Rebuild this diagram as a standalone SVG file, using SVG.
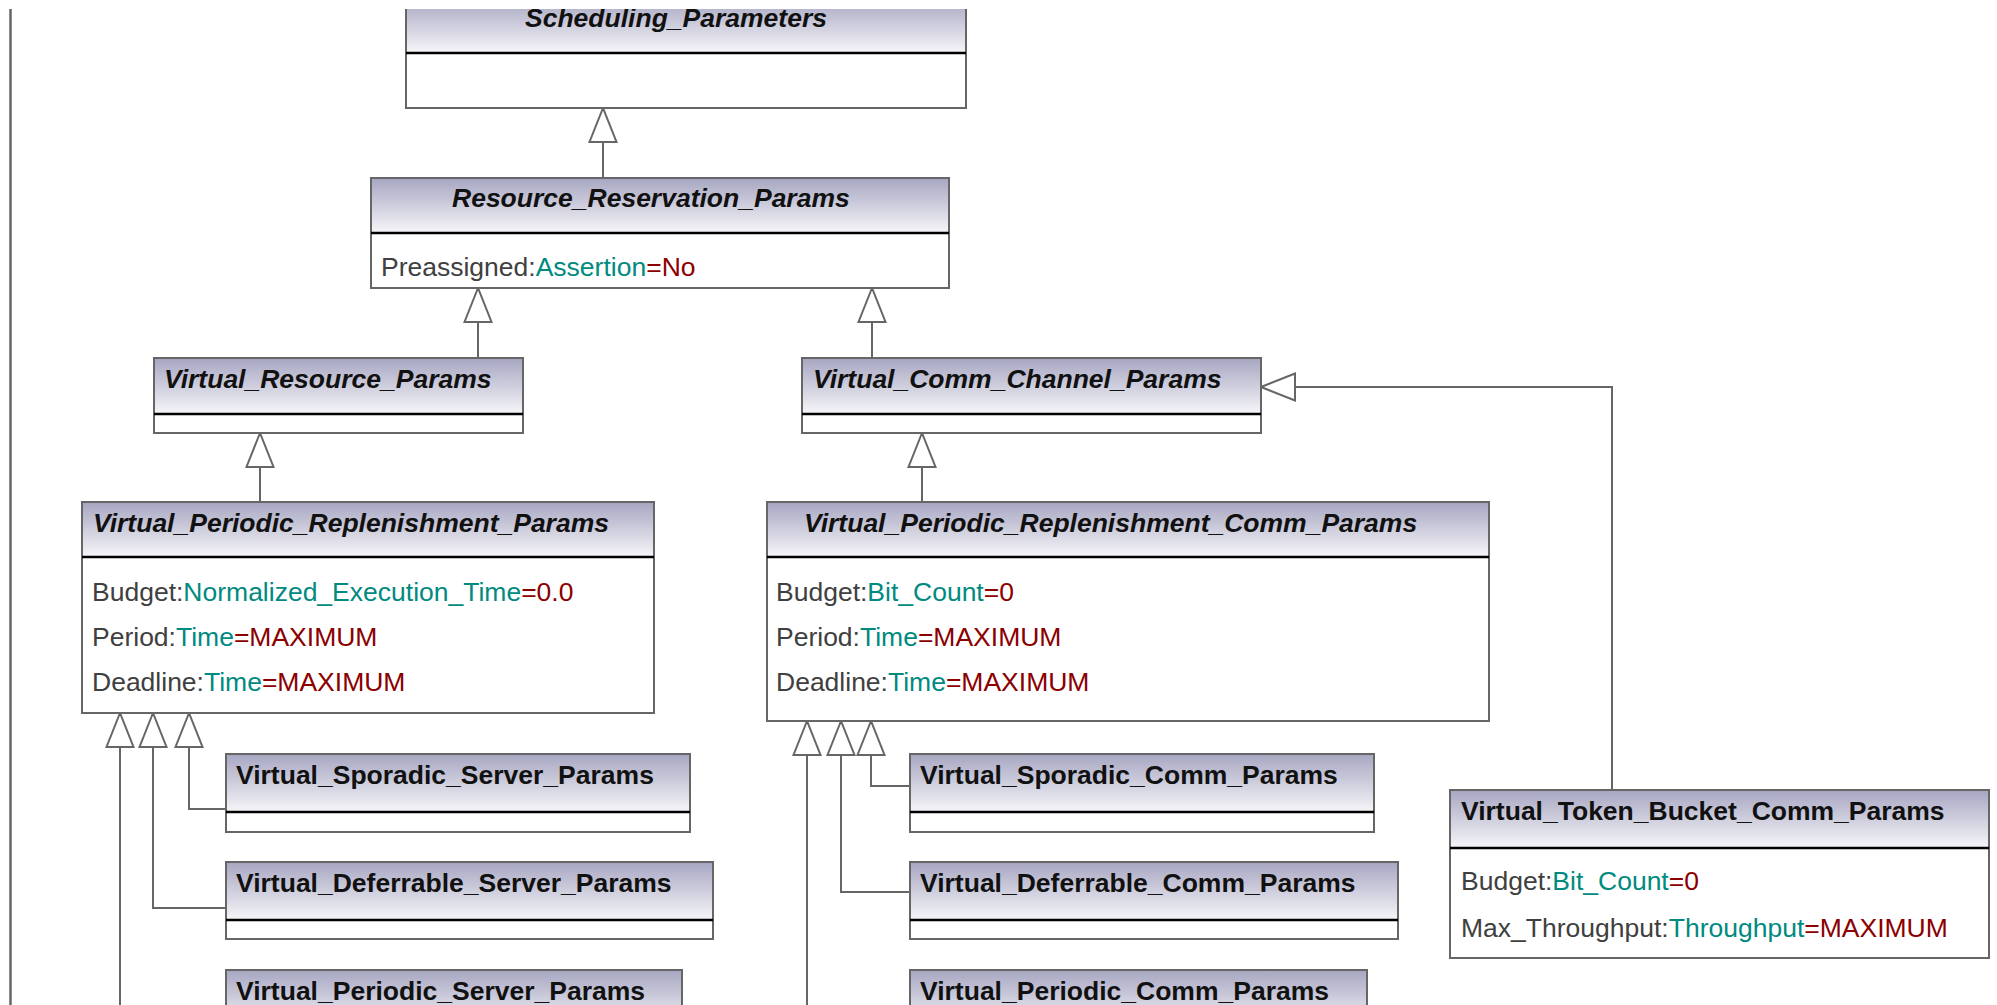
<svg xmlns="http://www.w3.org/2000/svg" width="1997" height="1005" viewBox="0 0 1997 1005">
  <defs>
    <linearGradient id="hg" x1="0" y1="0" x2="0" y2="1">
      <stop offset="0" stop-color="#a7a6c2"/>
      <stop offset="1" stop-color="#f6f6f9"/>
    </linearGradient>
    <!-- hollow UML generalization head -->
    <marker id="gen" markerUnits="userSpaceOnUse" markerWidth="36" markerHeight="30" viewBox="-1 -1 36 30" refX="34" refY="14" orient="auto">
      <path d="M34,14 L0,0.5 L0,27.5 Z" fill="#fff" stroke="#666" stroke-width="2"/>
    </marker>
    <clipPath id="topcut">
      <rect x="0" y="9" width="1997" height="996"/>
    </clipPath>
    <style>
      .frame{fill:#fff;stroke:#666;stroke-width:2}
      .hdr{fill:url(#hg);stroke:#666;stroke-width:2}
      .sep{stroke:#000;stroke-width:2.5}
      .ttl{font-family:"Liberation Sans",Arial,sans-serif;font-size:26.5px;font-weight:bold;fill:#111}
      .abs{font-style:italic}
      .att{font-family:"Liberation Sans",Arial,sans-serif;font-size:26.5px;fill:#404040}
      .ty{fill:#008a80}
      .va{fill:#8b0000}
      .edge{fill:none;stroke:#666;stroke-width:2;marker-end:url(#gen)}
      .rule{stroke:#666;stroke-width:2.5}
    </style>
  </defs>
  <rect width="1997" height="1005" fill="#fff"/>

  <!-- page margin rule -->
  <line class="rule" x1="10.5" y1="9" x2="10.5" y2="1005"/>

  <!-- classes -->
  <g id="scheduling-parameters" clip-path="url(#topcut)">
    <rect class="frame" x="406" y="-2" width="560" height="110"/>
    <rect class="hdr" x="406" y="-2" width="560" height="55"/>
    <line class="sep" x1="406" y1="53" x2="966" y2="53"/>
    <text class="ttl abs" x="525" y="27">Scheduling_Parameters</text>
  </g>

  <g id="resource-reservation-params">
    <rect class="frame" x="371" y="178" width="578" height="110"/>
    <rect class="hdr" x="371" y="178" width="578" height="55"/>
    <line class="sep" x1="371" y1="233" x2="949" y2="233"/>
    <text class="ttl abs" x="452" y="207">Resource_Reservation_Params</text>
    <text class="att" x="381" y="276">Preassigned:<tspan class="ty">Assertion</tspan><tspan class="va">=No</tspan></text>
  </g>

  <g id="virtual-resource-params">
    <rect class="frame" x="154" y="358" width="369" height="75"/>
    <rect class="hdr" x="154" y="358" width="369" height="56"/>
    <line class="sep" x1="154" y1="414" x2="523" y2="414"/>
    <text class="ttl abs" x="164" y="388">Virtual_Resource_Params</text>
  </g>

  <g id="virtual-comm-channel-params">
    <rect class="frame" x="802" y="358" width="459" height="75"/>
    <rect class="hdr" x="802" y="358" width="459" height="56"/>
    <line class="sep" x1="802" y1="414" x2="1261" y2="414"/>
    <text class="ttl abs" x="813" y="388">Virtual_Comm_Channel_Params</text>
  </g>

  <g id="virtual-periodic-replenishment-params">
    <rect class="frame" x="82" y="502" width="572" height="211"/>
    <rect class="hdr" x="82" y="502" width="572" height="55"/>
    <line class="sep" x1="82" y1="557" x2="654" y2="557"/>
    <text class="ttl abs" x="93" y="532">Virtual_Periodic_Replenishment_Params</text>
    <text class="att" x="92" y="601">Budget:<tspan class="ty">Normalized_Execution_Time</tspan><tspan class="va">=0.0</tspan></text>
    <text class="att" x="92" y="646">Period:<tspan class="ty">Time</tspan><tspan class="va">=MAXIMUM</tspan></text>
    <text class="att" x="92" y="691">Deadline:<tspan class="ty">Time</tspan><tspan class="va">=MAXIMUM</tspan></text>
  </g>

  <g id="virtual-periodic-replenishment-comm-params">
    <rect class="frame" x="767" y="502" width="722" height="219"/>
    <rect class="hdr" x="767" y="502" width="722" height="55"/>
    <line class="sep" x1="767" y1="557" x2="1489" y2="557"/>
    <text class="ttl abs" x="804" y="532">Virtual_Periodic_Replenishment_Comm_Params</text>
    <text class="att" x="776" y="601">Budget:<tspan class="ty">Bit_Count</tspan><tspan class="va">=0</tspan></text>
    <text class="att" x="776" y="646">Period:<tspan class="ty">Time</tspan><tspan class="va">=MAXIMUM</tspan></text>
    <text class="att" x="776" y="691">Deadline:<tspan class="ty">Time</tspan><tspan class="va">=MAXIMUM</tspan></text>
  </g>

  <g id="virtual-sporadic-server-params">
    <rect class="frame" x="226" y="754" width="464" height="78"/>
    <rect class="hdr" x="226" y="754" width="464" height="58"/>
    <line class="sep" x1="226" y1="812" x2="690" y2="812"/>
    <text class="ttl" x="236" y="784">Virtual_Sporadic_Server_Params</text>
  </g>

  <g id="virtual-deferrable-server-params">
    <rect class="frame" x="226" y="862" width="487" height="77"/>
    <rect class="hdr" x="226" y="862" width="487" height="58"/>
    <line class="sep" x1="226" y1="920" x2="713" y2="920"/>
    <text class="ttl" x="236" y="892">Virtual_Deferrable_Server_Params</text>
  </g>

  <g id="virtual-periodic-server-params">
    <rect class="frame" x="226" y="970" width="456" height="78"/>
    <rect class="hdr" x="226" y="970" width="456" height="58"/>
    <text class="ttl" x="236" y="1000">Virtual_Periodic_Server_Params</text>
  </g>

  <g id="virtual-sporadic-comm-params">
    <rect class="frame" x="910" y="754" width="464" height="78"/>
    <rect class="hdr" x="910" y="754" width="464" height="58"/>
    <line class="sep" x1="910" y1="812" x2="1374" y2="812"/>
    <text class="ttl" x="920" y="784">Virtual_Sporadic_Comm_Params</text>
  </g>

  <g id="virtual-deferrable-comm-params">
    <rect class="frame" x="910" y="862" width="488" height="77"/>
    <rect class="hdr" x="910" y="862" width="488" height="58"/>
    <line class="sep" x1="910" y1="920" x2="1398" y2="920"/>
    <text class="ttl" x="920" y="892">Virtual_Deferrable_Comm_Params</text>
  </g>

  <g id="virtual-periodic-comm-params">
    <rect class="frame" x="910" y="970" width="457" height="78"/>
    <rect class="hdr" x="910" y="970" width="457" height="58"/>
    <text class="ttl" x="920" y="1000">Virtual_Periodic_Comm_Params</text>
  </g>

  <g id="virtual-token-bucket-comm-params">
    <rect class="frame" x="1450" y="790" width="539" height="168"/>
    <rect class="hdr" x="1450" y="790" width="539" height="58"/>
    <line class="sep" x1="1450" y1="848" x2="1989" y2="848"/>
    <text class="ttl" x="1461" y="820">Virtual_Token_Bucket_Comm_Params</text>
    <text class="att" x="1461" y="890">Budget:<tspan class="ty">Bit_Count</tspan><tspan class="va">=0</tspan></text>
    <text class="att" x="1461" y="937">Max_Throughput:<tspan class="ty">Throughput</tspan><tspan class="va">=MAXIMUM</tspan></text>
  </g>

  <!-- generalizations (child to parent) -->
  <g id="connectors">
    <path class="edge" d="M603,178 V108"/>
    <path class="edge" d="M478,358 V288"/>
    <path class="edge" d="M872,358 V288"/>
    <path class="edge" d="M260,502 V433"/>
    <path class="edge" d="M922,502 V433"/>
    <path class="edge" d="M1612,790 V387 H1261"/>
    <path class="edge" d="M226,809 H189 V713"/>
    <path class="edge" d="M226,908 H153 V713"/>
    <path class="edge" d="M226,1030 H120 V713"/>
    <path class="edge" d="M910,786 H871 V721"/>
    <path class="edge" d="M910,892 H841 V721"/>
    <path class="edge" d="M910,1030 H807 V721"/>
  </g>
</svg>
